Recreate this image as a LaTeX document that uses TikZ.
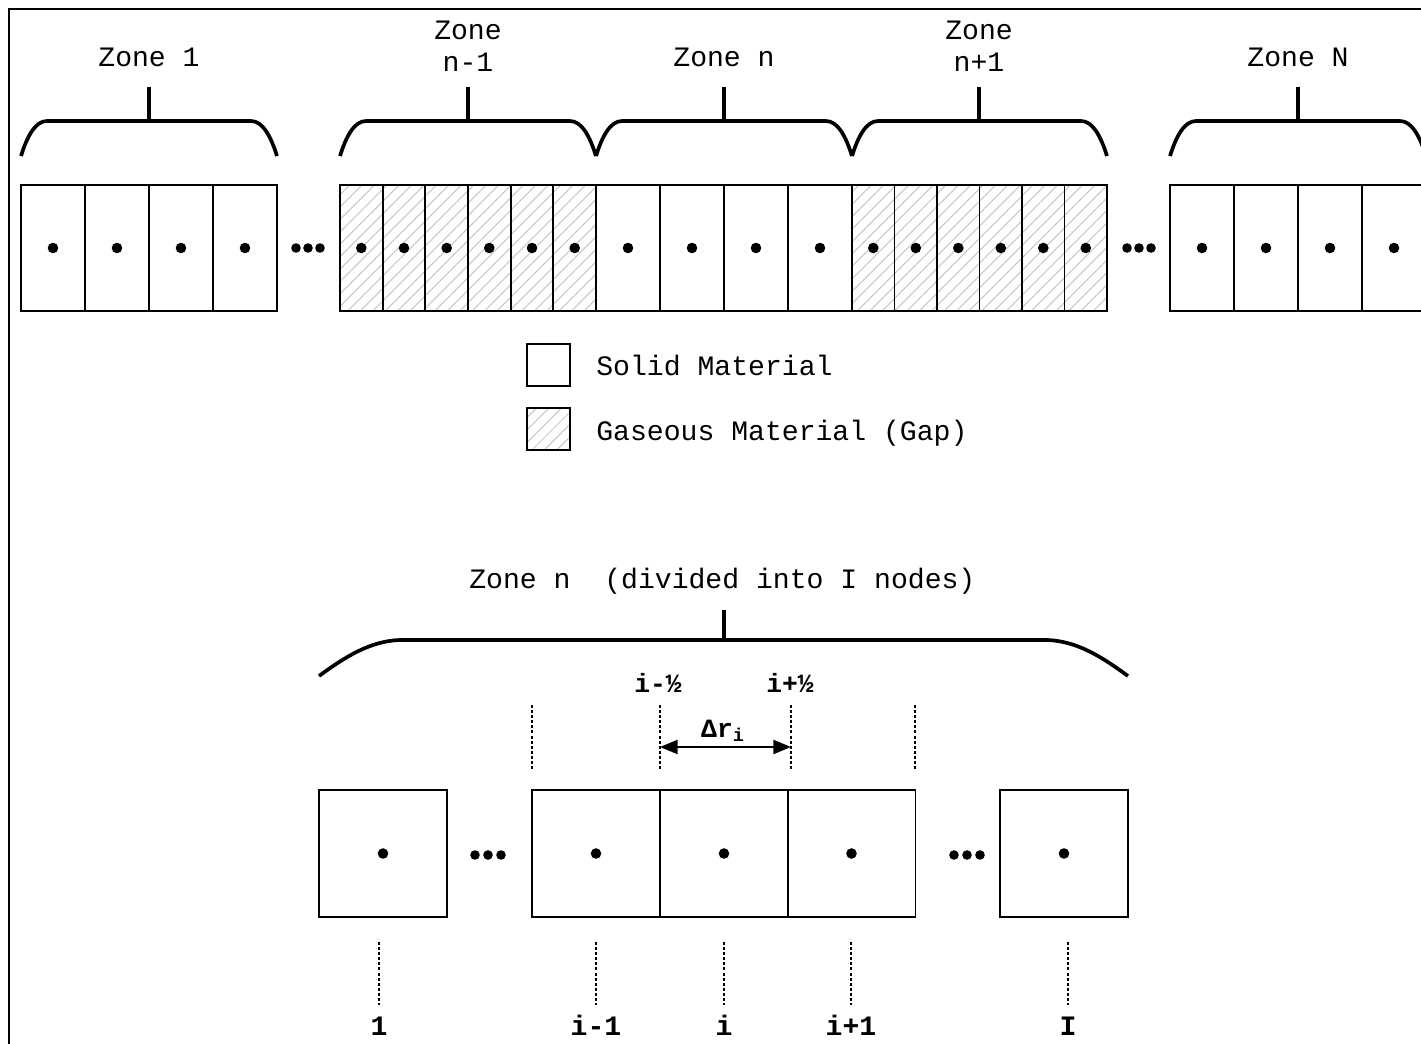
\documentclass[tikz,border=0pt]{standalone}
\usepackage{fontspec}
\setmonofont{Liberation Mono}
\usetikzlibrary{patterns.meta,arrows.meta}

\begin{document}
\begin{tikzpicture}[x=0.02cm, y=-0.02cm]
  \tikzstyle{every node}=[font=\fontsize{16}{19}\selectfont\ttfamily, inner sep=0pt]
  \tikzstyle{solidcell}=[draw=black, line width=0.95pt]
  \tikzstyle{gascell}=[solidcell, pattern={Lines[angle=45,distance=5pt,line width=0.5pt]}, pattern color=gray!50]
  \tikzstyle{nodebox}=[draw=black, line width=1pt, minimum width=2.56cm, minimum height=2.54cm]
  \tikzstyle{brace}=[line width=2.1pt]
  \tikzstyle{guide}=[line width=1.2pt, dash pattern=on 1.7pt off 1.2pt]
  \tikzstyle{boldlabel}=[font=\fontsize{16}{19}\selectfont\ttfamily\bfseries, anchor=base]
  \tikzstyle{halflabel}=[font=\fontsize{15}{18}\selectfont\ttfamily\bfseries, anchor=base]
  \useasboundingbox (0,0) rectangle (1421,1044);
  \clip (0,0) rectangle (1421,1044);
  \draw[line width=1.5pt] (9,9) rectangle (1450,1060);

  \node[anchor=base] (zone1) at (149,67) {Zone 1};
  \node[anchor=base] (zoneprev) at (468,40) {Zone};
  \node[anchor=base] (zoneprevnum) at (468,72) {n-1};
  \node[anchor=base] (zonen) at (724,67) {Zone n};
  \node[anchor=base] (zonenext) at (979,40) {Zone};
  \node[anchor=base] (zonenextnum) at (979,72) {n+1};
  \node[anchor=base] (zoneN) at (1298,67) {Zone N};

  \draw[brace] (149,121) -- (149,87);
  \draw[brace] (21,156) .. controls (27,137) and (35,121) .. (47,121) -- (251,121) .. controls (263,121) and (271,137) .. (277,156);
  \draw[brace] (468,121) -- (468,87);
  \draw[brace] (340,156) .. controls (346,137) and (354,121) .. (366,121) -- (570,121) .. controls (582,121) and (590,137) .. (596,156);
  \draw[brace] (724,121) -- (724,87);
  \draw[brace] (596,156) .. controls (602,137) and (610,121) .. (622,121) -- (826,121) .. controls (838,121) and (846,137) .. (852,156);
  \draw[brace] (979,121) -- (979,87);
  \draw[brace] (852,156) .. controls (858,137) and (866,121) .. (878,121) -- (1081,121) .. controls (1093,121) and (1101,137) .. (1107,156);
  \draw[brace] (1298,121) -- (1298,87);
  \draw[brace] (1170,156) .. controls (1176,137) and (1184,121) .. (1196,121) -- (1400,121) .. controls (1412,121) and (1420,137) .. (1426,156);

  \draw[solidcell] (21,185) rectangle (85,311) (85,185) rectangle (149,311) (149,185) rectangle (213,311) (213,185) rectangle (277,311);
  \draw[gascell] (340,185) rectangle (382.7,311) (382.7,185) rectangle (425.3,311) (425.3,185) rectangle (468,311) (468,185) rectangle (510.7,311) (510.7,185) rectangle (553.3,311) (553.3,185) rectangle (596,311);
  \draw[solidcell] (596,185) rectangle (660,311) (660,185) rectangle (724,311) (724,185) rectangle (788,311) (788,185) rectangle (852,311);
  \draw[gascell] (852,185) rectangle (894.5,311) (894.5,185) rectangle (937,311) (937,185) rectangle (979.5,311) (979.5,185) rectangle (1022,311) (1022,185) rectangle (1064.5,311) (1064.5,185) rectangle (1107,311);
  \draw[solidcell] (1170,185) rectangle (1234,311) (1234,185) rectangle (1298,311) (1298,185) rectangle (1362,311) (1362,185) rectangle (1426,311);

  \fill (53,248) circle (5.3) (117,248) circle (5.3) (181,248) circle (5.3) (245,248) circle (5.3);
  \fill (296,248) circle (4.8) (308,248) circle (4.8) (320,248) circle (4.8);
  \fill (361.3,248) circle (5.3) (404,248) circle (5.3) (446.7,248) circle (5.3) (489.3,248) circle (5.3) (532,248) circle (5.3) (574.7,248) circle (5.3);
  \fill (628,248) circle (5.3) (692,248) circle (5.3) (756,248) circle (5.3) (820,248) circle (5.3);
  \fill (873.3,248) circle (5.3) (915.8,248) circle (5.3) (958.3,248) circle (5.3) (1000.8,248) circle (5.3) (1043.3,248) circle (5.3) (1085.8,248) circle (5.3);
  \fill (1127,248) circle (4.8) (1139,248) circle (4.8) (1151,248) circle (4.8);
  \fill (1202,248) circle (5.3) (1266,248) circle (5.3) (1330,248) circle (5.3) (1394,248) circle (5.3);

  \draw[solidcell] (527,344) rectangle (570,386);
  \node[anchor=base west] (solidtext) at (596,376) {Solid Material};
  \draw[gascell] (527,408) rectangle (570,450);
  \node[anchor=base west] (gastext) at (596,440) {Gaseous Material (Gap)};

  \node[anchor=base west] (zonedetail) at (469,588) {Zone n\ \ (divided into I nodes)};
  \draw[brace] (724,640) -- (724,610);
  \draw[brace] (319,676) .. controls (345,657) and (370,641) .. (400,640) -- (1047,640) .. controls (1077,641) and (1102,657) .. (1128,676);

  \node[halflabel] (halfminus) at (658,692) {i-½};
  \node[halflabel] (halfplus) at (790,692) {i+½};
  \draw[guide] (532,705) -- (532,770);
  \draw[guide] (660,705) -- (660,770);
  \draw[guide] (791,705) -- (791,770);
  \draw[guide] (915,705) -- (915,770);
  \coordinate (drleft) at (660,747);
  \coordinate (drright) at (791,747);
  \draw[line width=1pt, {Triangle[length=10pt,width=8pt]}-{Triangle[length=10pt,width=8pt]}] (drleft) -- (drright);
  \node[halflabel] (drlabel) at (723,737) {Δr\textsubscript{i}};

  \node[nodebox] (box1) at (383,853.5) {};
  \node[nodebox] (boxprev) at (596,853.5) {};
  \node[nodebox] (boxi) at (724,853.5) {};
  \node[nodebox] (boxnext) at (851.5,853.5) {};
  \node[nodebox] (boxlast) at (1064,853.5) {};
  \fill (box1.center) circle (5.3) (boxprev.center) circle (5.3) (boxi.center) circle (5.3) (boxnext.center) circle (5.3) (boxlast.center) circle (5.3);
  \fill (475,855) circle (4.8) (488,855) circle (4.8) (501,855) circle (4.8);
  \fill (954,855) circle (4.8) (967,855) circle (4.8) (980,855) circle (4.8);

  \draw[guide] (379,942) -- (379,1005);
  \draw[guide] (596,942) -- (596,1005);
  \draw[guide] (724,942) -- (724,1005);
  \draw[guide] (851,942) -- (851,1005);
  \draw[guide] (1068,942) -- (1068,1005);
  \node[boldlabel] (lab1) at (379,1035) {1};
  \node[boldlabel] (labprev) at (596,1035) {i-1};
  \node[boldlabel] (labi) at (724,1035) {i};
  \node[boldlabel] (labnext) at (851,1035) {i+1};
  \node[boldlabel] (labI) at (1068,1035) {I};
\end{tikzpicture}
\end{document}
